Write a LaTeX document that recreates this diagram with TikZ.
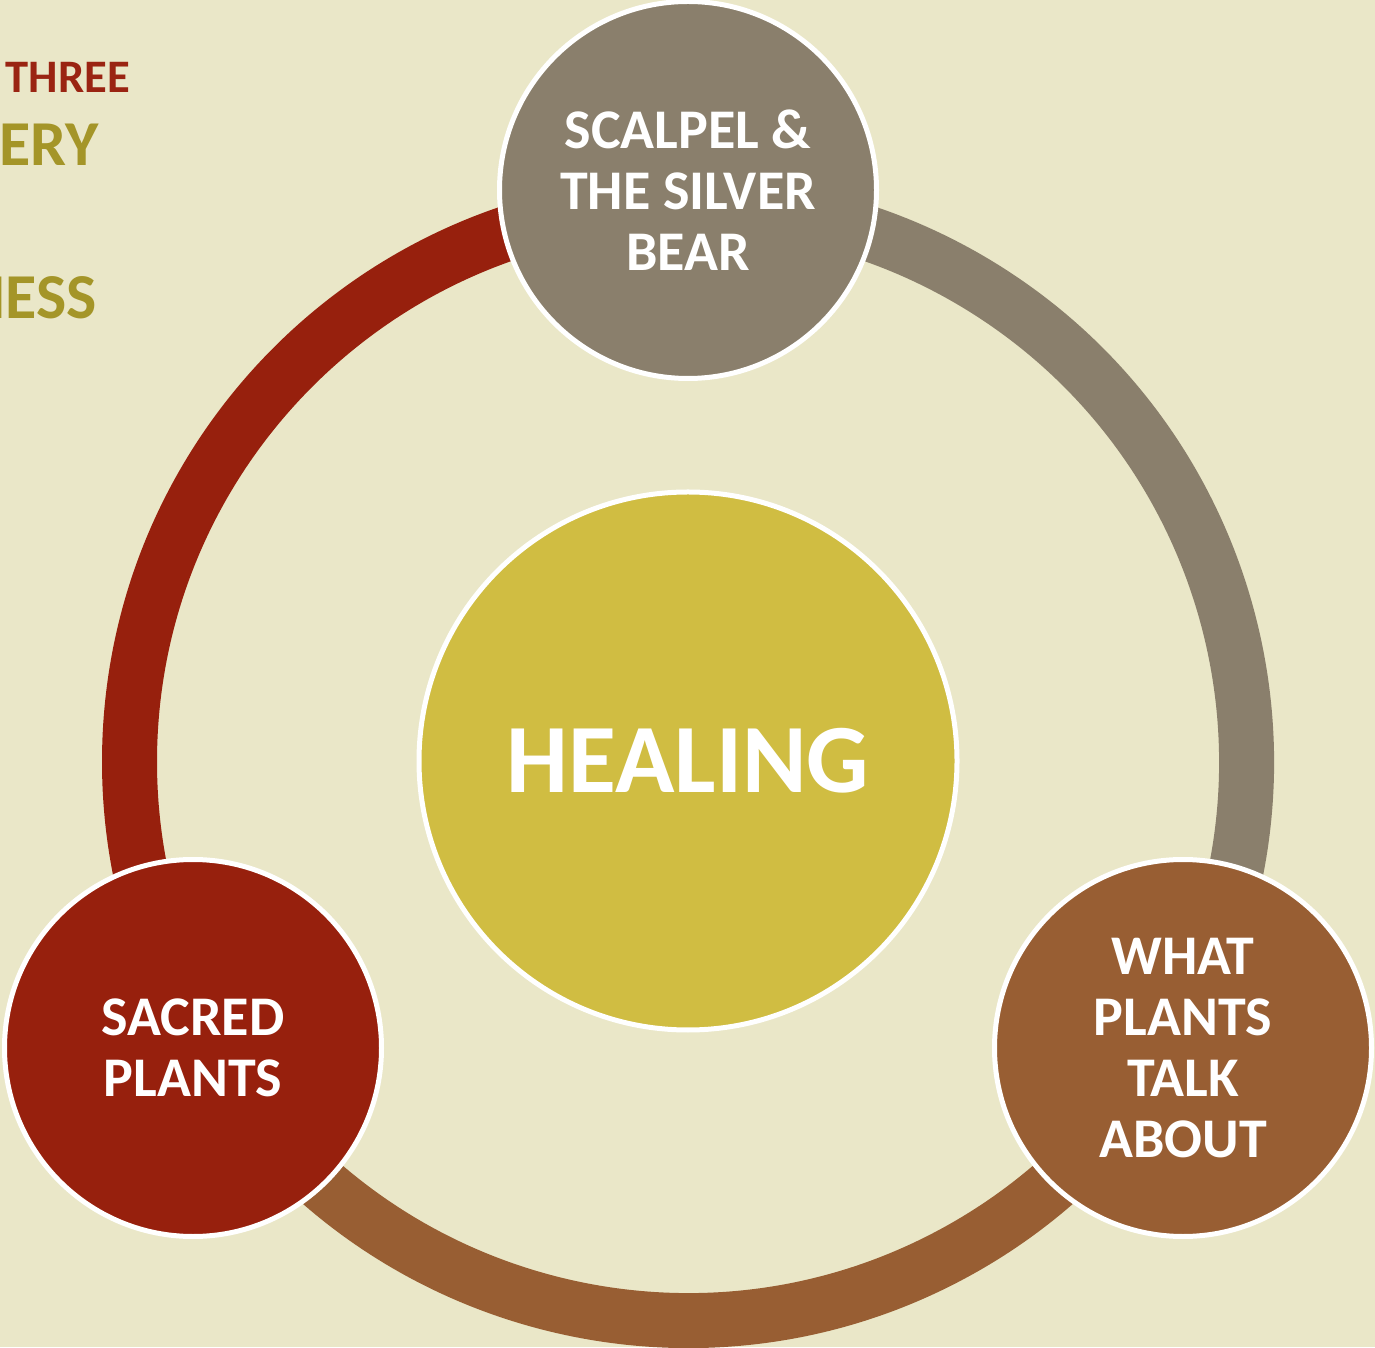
\documentclass[tikz,border=0pt]{standalone}
\usepackage{fontspec}
\setmainfont{Carlito}
\definecolor{bgc}{HTML}{EAE7C8}
\definecolor{cred}{HTML}{97200D}
\definecolor{cgray}{HTML}{8A7F6C}
\definecolor{cbrown}{HTML}{985E33}
\definecolor{cyel}{HTML}{D0BD42}
\definecolor{tolive}{HTML}{A49528}
\definecolor{tred}{HTML}{9A2412}
\begin{document}
\begin{tikzpicture}[x=1pt,y=1pt,
  ringarc/.style={line width=55pt},
  circ/.style={circle, draw=white, line width=5pt, minimum size=377pt, inner sep=0pt,
    text=white, align=center, font=\bfseries\fontsize{56}{61}\selectfont},
  hub/.style={circle, draw=white, line width=5pt, minimum size=538pt, inner sep=0pt,
    text=white, align=center, fill=cyel, font=\bfseries\fontsize{98}{100}\selectfont},
  side/.style={anchor=base east, inner sep=0pt, font=\bfseries}]
\fill[bgc] (0,0) rectangle (1375,1347);
\useasboundingbox (0,0) rectangle (1375,1347);
\coordinate (C) at (688,585);
% ring arcs
\draw[ringarc, cred]   (C) ++(90:558.5)  arc[start angle=90,  end angle=210, radius=558.5];
\draw[ringarc, cbrown] (C) ++(210:558.5) arc[start angle=210, end angle=330, radius=558.5];
\draw[ringarc, cgray]  (C) ++(330:558.5) arc[start angle=330, end angle=450, radius=558.5];
% circles
\node[hub] (heal) at (688,586) {HEALING};
\node[circ, fill=cgray] (scalpel) at (688,1157) {SCALPEL \&\\THE SILVER\\BEAR};
\node[circ, fill=cred] (sacred) at (193,299) {SACRED\\PLANTS};
\node[circ, fill=cbrown] (what) at (1183,299) {WHAT\\PLANTS\\TALK\\ABOUT};
% cut-off side texts
\node[side, text=tred, font=\bfseries\fontsize{46.6}{50}\selectfont] (three) at (130,1254) {THREE};
\node[side, text=tolive, font=\bfseries\fontsize{64}{66}\selectfont] (ery) at (99,1181) {ERY};
\node[side, text=tolive, font=\bfseries\fontsize{64}{66}\selectfont] (ness) at (97,1028) {NESS};
\end{tikzpicture}
\end{document}
